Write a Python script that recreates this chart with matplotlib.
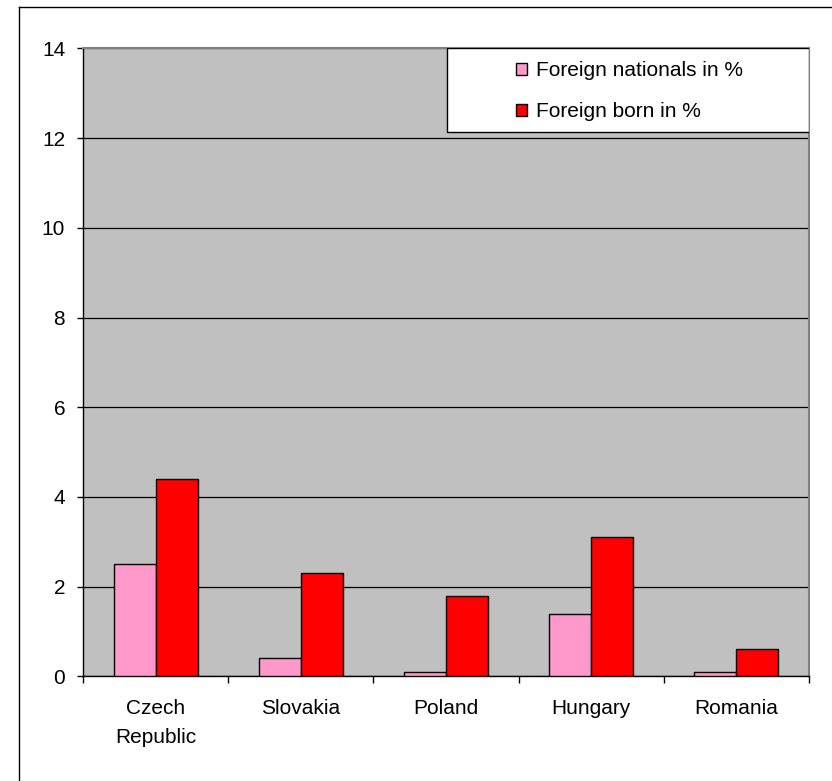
import numpy as np
import matplotlib.pyplot as plt
from matplotlib.patches import Rectangle, Patch
from matplotlib.lines import Line2D

plt.rcParams['font.family'] = ['Liberation Sans', 'DejaVu Sans']

# data
countries = ['Czech\nRepublic', 'Slovakia', 'Poland', 'Hungary', 'Romania']
foreign_nationals = [2.5, 0.4, 0.1, 1.4, 0.1]
foreign_born = [4.4, 2.3, 1.8, 3.1, 0.6]
series_names = ['Foreign nationals in %', 'Foreign born in %']
yticks = [0, 2, 4, 6, 8, 10, 12, 14]

fig = plt.figure(figsize=(8.32, 7.81), dpi=100)
ax = fig.add_axes([0.1001, 0.134, 0.872, 0.804])
ax.set_facecolor('#C0C0C0')

x = np.arange(len(countries))
w = 0.29
ax.bar(x - w / 2, foreign_nationals, w, color='#FF99CC', edgecolor='black', linewidth=1, zorder=3)
ax.bar(x + w / 2, foreign_born, w, color='#FF0000', edgecolor='black', linewidth=1, zorder=3)

ax.set_xlim(-0.5, len(countries) - 0.5)
ax.set_ylim(0, 14)
ax.set_yticks(yticks)
ax.set_yticklabels([str(t) for t in yticks], fontsize=15)
ax.yaxis.grid(True, color='black', linewidth=0.9, zorder=1)
ax.set_axisbelow(True)

ax.set_xticks(x)
ax.set_xticklabels(countries, fontsize=15, linespacing=1.7)
ax.set_xticks(np.arange(-0.5, len(countries)), minor=True)
ax.tick_params(axis='x', which='major', length=0, pad=16)
ax.tick_params(axis='x', which='minor', length=5, width=1, direction='out')
ax.tick_params(axis='y', length=4, width=1, pad=9)

for side in ['top', 'right']:
    ax.spines[side].set_color('#808080')
    ax.spines[side].set_linewidth(1.5)
for side in ['left', 'bottom']:
    ax.spines[side].set_color('black')
    ax.spines[side].set_linewidth(1)

# legend box
ax.add_patch(Rectangle((0.501, 0.867), 0.499, 0.133, transform=ax.transAxes,
                       facecolor='white', edgecolor='black', linewidth=1, zorder=5))
handles = [Patch(facecolor='#FF99CC', edgecolor='black'),
           Patch(facecolor='#FF0000', edgecolor='black')]
leg = ax.legend(handles, series_names, loc='center left', bbox_to_anchor=(0.5965, 0.932),
                frameon=False, fontsize=15, handlelength=0.53, handleheight=0.53,
                handletextpad=0.45, labelspacing=1.05, borderpad=0, borderaxespad=0)
leg.set_zorder(6)

# outer border
fig.add_artist(Line2D([19 / 832, 19 / 832], [0, 1 - 7 / 781], color='black', linewidth=1))
fig.add_artist(Line2D([19 / 832, 1], [1 - 7 / 781, 1 - 7 / 781], color='black', linewidth=1))

fig.savefig('out.png', dpi=100)
